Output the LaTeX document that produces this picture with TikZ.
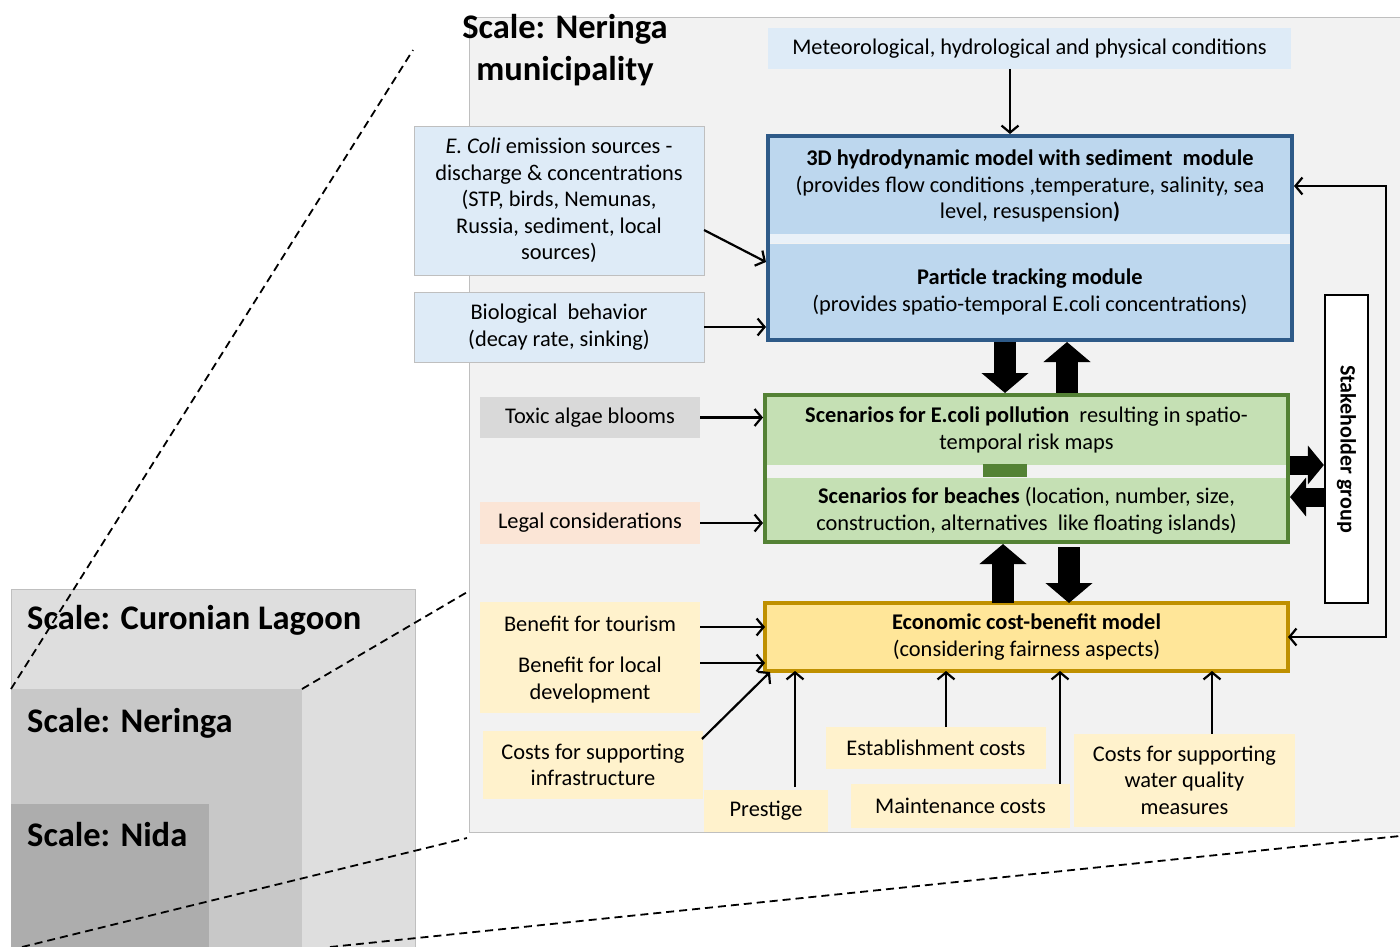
\documentclass[tikz,border=0pt]{standalone}
\usepackage{fontspec}
\setmainfont{Carlito}
\usetikzlibrary{arrows.meta,calc}
\definecolor{panel}{HTML}{F2F2F2}
\definecolor{panelline}{HTML}{BFBFBF}
\definecolor{bluebd}{HTML}{2E5A88}
\definecolor{bluefill}{HTML}{BDD7EE}
\definecolor{lblue}{HTML}{DEEBF7}
\definecolor{bluesep}{HTML}{EAF1F8}
\definecolor{greenbd}{HTML}{548235}
\definecolor{greenfill}{HTML}{C5E0B4}
\definecolor{yellowbd}{HTML}{BF9000}
\definecolor{yellowfill}{HTML}{FFE699}
\definecolor{lyellow}{HTML}{FFF2CC}
\definecolor{peach}{HTML}{FBE5D6}
\definecolor{toxgray}{HTML}{D9D9D9}
\definecolor{scaleA}{HTML}{DEDEDE}
\definecolor{scaleB}{HTML}{C8C8C8}
\definecolor{scaleC}{HTML}{ADADAD}
\begin{document}
\begin{tikzpicture}[x=1pt,y=-1pt,
  txt/.style={inner sep=0pt, outer sep=0pt, align=center, font=\fontsize{22.4}{26.5}\selectfont},
  inbox/.style={txt, fill=#1, minimum width=220pt},
  bigtitle/.style={inner sep=0pt, align=left, font=\fontsize{34.5}{42}\selectfont\bfseries},
  frame/.style={draw=#1, line width=4pt, inner sep=0pt},
  arr/.style={line width=2.2pt, -{Straight Barb[length=7pt,width=17pt]}},
  arrboth/.style={line width=2.2pt, {Straight Barb[length=7pt,width=17pt]}-{Straight Barb[length=7pt,width=17pt]}},
  block/.style={line width=22pt, -{Triangle[length=20pt,width=46pt]}},
  sideblock/.style={line width=19pt, -{Triangle[length=16pt,width=38pt]}},
  dashline/.style={line width=1.8pt, dash pattern=on 8pt off 5pt}
]
\useasboundingbox (0,0) rectangle (1400,947);
\fill[white] (0,0) rectangle (1400,947);

% left scale boxes
\filldraw[fill=scaleA, draw=panelline, line width=0.8pt] (11,589) rectangle (415,950);
\fill[scaleB] (11,689) rectangle (302,950);
\fill[scaleC] (11,804) rectangle (209,950);
\node[bigtitle, anchor=west] (lagoon) at (27,620) {Scale: Curonian Lagoon};
\node[bigtitle, anchor=west] (neringa) at (27,723) {Scale: Neringa};
\node[bigtitle, anchor=west] (nida) at (27,835) {Scale: Nida};

% main panel
\filldraw[fill=panel, draw=panelline, line width=1pt] (469,18) rectangle (1402,832);
\node[bigtitle, align=center] (title) at (565,50) {Scale: Neringa\\municipality};

% dashed zoom lines
\coordinate (z1a) at (11,689); \coordinate (z1b) at (413,50);
\coordinate (z2a) at (302,689); \coordinate (z2b) at (469,591);
\coordinate (z3a) at (22,947); \coordinate (z3b) at (467,838);
\coordinate (z4a) at (330,947); \coordinate (z4b) at (1400,836);
\draw[dashline] (z1a) -- (z1b);
\draw[dashline] (z2a) -- (z2b);
\draw[dashline] (z3a) -- (z3b);
\draw[dashline] (z4a) -- (z4b);

% inputs
\node[inbox=lblue, minimum width=523pt, minimum height=41pt] (met) at (1029.5,48.5) {Meteorological, hydrological and physical conditions};
\node[inbox=lblue, draw=panelline, line width=0.6pt, minimum width=290pt, minimum height=149pt] (ecoli) at (559,200.5) {\textit{E. Coli} emission sources -\\discharge \& concentrations\\(STP, birds, Nemunas,\\Russia, sediment, local\\sources)};
\node[inbox=lblue, draw=panelline, line width=0.6pt, minimum width=290pt, minimum height=70pt] (bio) at (559,327) {Biological\ \ behavior\\(decay rate, sinking)};
\node[inbox=toxgray, minimum height=41pt] (toxic) at (590,417.5) {Toxic algae blooms};
\node[inbox=peach, minimum height=42pt] (legal) at (590,523) {Legal considerations};

% blue model box
\node[inbox=bluefill, minimum width=524pt, minimum height=98pt] (hydro) at (1030,186) {\textbf{3D hydrodynamic model with sediment\ \ module}\\(provides flow conditions ,temperature, salinity, sea\\level, resuspension\textbf{)}};
\fill[bluesep] (768,234) rectangle (1292,243);
\node[inbox=bluefill, minimum width=524pt, minimum height=97pt] (particle) at (1030,292) {\textbf{Particle tracking module}\\(provides spatio-temporal E.coli concentrations)};
\node[frame=bluebd, minimum width=524pt, minimum height=204pt] (bluebox) at (1030,238) {};

% green scenario box
\node[inbox=greenfill, minimum width=523pt, minimum height=69pt] (pollution) at (1026.5,430) {\textbf{Scenarios for E.coli pollution}\ \ resulting in spatio-\\temporal risk maps};
\node[inbox=greenfill, minimum width=523pt, minimum height=65pt] (beaches) at (1026.5,510.5) {\textbf{Scenarios for beaches} (location, number, size,\\construction, alternatives\ \ like floating islands)};
\node[fill=greenbd, inner sep=0pt, minimum width=44pt, minimum height=13pt] (link) at (1005,470.5) {};
\node[frame=greenbd, minimum width=523pt, minimum height=147pt] (greenbox) at (1026.5,468.5) {};

% yellow economic box
\node[inbox=yellowfill, frame=yellowbd, minimum width=523pt, minimum height=68pt] (econ) at (1026.5,637) {\textbf{Economic cost-benefit model}\\(considering fairness aspects)};

% stakeholder
\node[draw=black, fill=white, line width=2.2pt, inner sep=0pt, minimum width=43pt, minimum height=308pt] (stake) at (1346.5,449) {};
\node[txt, rotate=-90, font=\fontsize{22}{24}\selectfont\bfseries] (stakelabel) at (stake.center) {Stakeholder group};

% economic inputs
\node[inbox=lyellow, minimum height=111pt] (benefit) at (590,657.5) {};
\node[txt] (tourism) at (590,624) {Benefit for tourism};
\node[txt] (local) at (590,680) {Benefit for local\\development};
\node[inbox=lyellow, minimum height=68pt] (infra) at (593,765) {Costs for supporting\\infrastructure};
\node[inbox=lyellow, minimum width=124pt, minimum height=42pt] (prestige) at (766,811) {Prestige};
\node[inbox=lyellow, minimum height=42pt] (estab) at (936,748) {Establishment costs};
\node[inbox=lyellow, minimum width=219pt, minimum height=44pt] (maint) at (960.5,806) {Maintenance costs};
\node[inbox=lyellow, minimum width=221pt, minimum height=93pt] (water) at (1184.5,780) {Costs for supporting\\water quality\\measures};

% thin arrows
\coordinate (xmet) at (1010,0);
\draw[arr] (met.south -| xmet) -- (bluebox.north -| xmet);
\draw[arr] ($(ecoli.east)+(0,29.5)$) -- ($(bluebox.west)+(0,24)$);
\draw[arr] (bio.east) -- (bluebox.west |- bio.east);
\draw[arr] (toxic.east) -- (greenbox.west |- toxic.east);
\draw[arr] (legal.east) -- (greenbox.west |- legal.east);
\coordinate (ytour) at (0,627);
\coordinate (yloc) at (0,663);
\draw[arr] (benefit.east |- ytour) -- (econ.west |- ytour);
\draw[arr] (benefit.east |- yloc) -- (econ.west |- yloc);
\draw[arr] ($(infra.north east)+(-1,8)$) -- ($(econ.south west)+(5,1)$);
\coordinate (xpre) at (795,0);
\coordinate (xest) at (946,0);
\coordinate (xmai) at (1060,0);
\coordinate (xwat) at (1212,0);
\draw[arr] ($(prestige.north -| xpre)+(0,-3)$) -- (econ.south -| xpre);
\draw[arr] (estab.north -| xest) -- (econ.south -| xest);
\draw[arr] (maint.north -| xmai) -- (econ.south -| xmai);
\draw[arr] (water.north -| xwat) -- (econ.south -| xwat);

% feedback loop
\coordinate (fb) at (1386,186);
\draw[arrboth] (bluebox.east |- fb) -- (fb) |- (econ.east);

% block arrows
\coordinate (xd1) at (1005,0);
\coordinate (xu1) at (1067,0);
\coordinate (xu2) at (1003,0);
\coordinate (xd2) at (1069,0);
\draw[block] (bluebox.south -| xd1) -- (greenbox.north -| xd1);
\draw[block] (greenbox.north -| xu1) -- (bluebox.south -| xu1);
\draw[block] (econ.north -| xu2) -- (greenbox.south -| xu2);
\draw[block] ($(greenbox.south -| xd2)+(0,3)$) -- (econ.north -| xd2);
\coordinate (yr) at (0,465);
\coordinate (yl) at (0,497);
\draw[sideblock] (greenbox.east |- yr) -- (stake.west |- yr);
\draw[sideblock] (stake.west |- yl) -- (greenbox.east |- yl);
\end{tikzpicture}
\end{document}
